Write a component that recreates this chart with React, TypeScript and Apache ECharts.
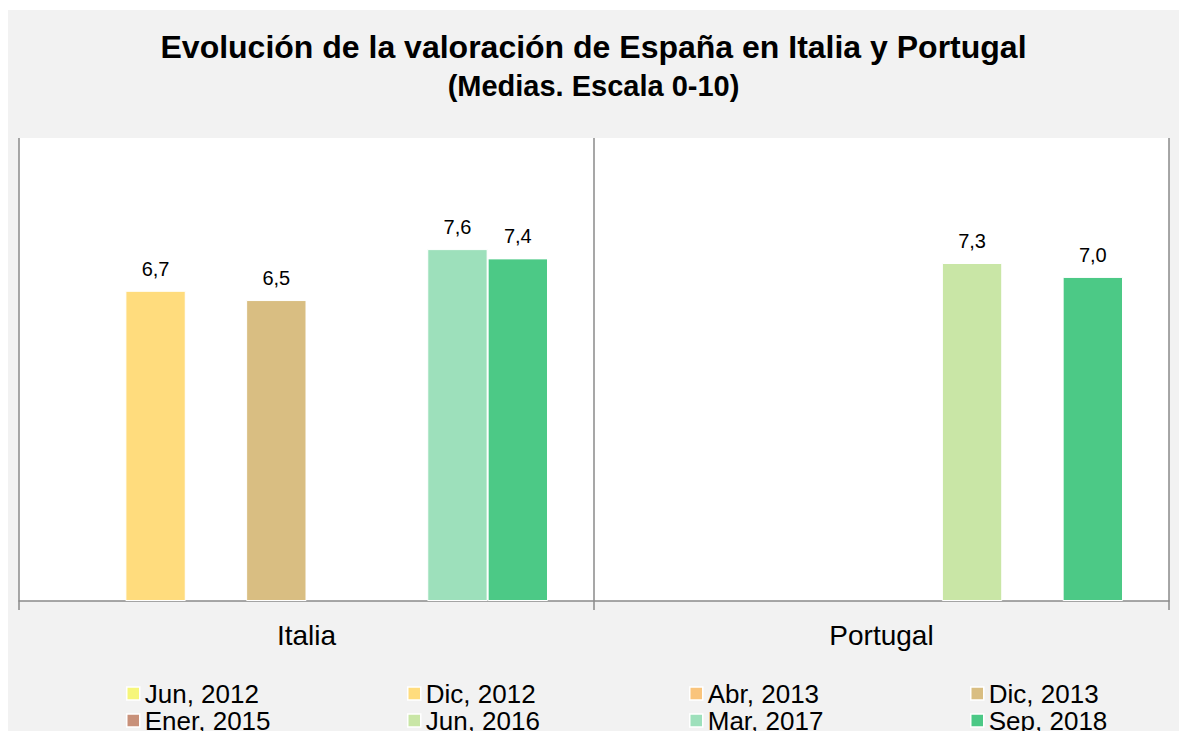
import React, { useEffect, useRef } from "react";
import * as echarts from "echarts";

const TITLE = "Evolución de la valoración de España en Italia y Portugal";
const SUBTITLE = "(Medias. Escala 0-10)";
const categories = ["Italia", "Portugal"];
const seriesNames = [
  "Jun, 2012",
  "Dic, 2012",
  "Abr, 2013",
  "Dic, 2013",
  "Ener, 2015",
  "Jun, 2016",
  "Mar, 2017",
  "Sep, 2018",
];
const jun2012 = [null, null];
const dic2012 = [6.7, null];
const abr2013 = [null, null];
const dic2013 = [6.5, null];
const ener2015 = [null, null];
const jun2016 = [null, 7.3];
const mar2017 = [7.6, null];
const sep2018 = [7.4, 7.0];
const seriesValues = [jun2012, dic2012, abr2013, dic2013, ener2015, jun2016, mar2017, sep2018];
const colors = [
  "#F6F67A",
  "#FFDC7D",
  "#F9C47C",
  "#D9BE82",
  "#C8917A",
  "#C9E6A6",
  "#9DE0BB",
  "#4CC986",
];

const FONT = "'Liberation Sans', Arial, sans-serif";

export default function App() {
  const ref = useRef<HTMLDivElement>(null);
  useEffect(() => {
    if (!ref.current) return;
    const chart = echarts.init(ref.current, null, { renderer: "svg" });
    const legendLefts = [118, 399, 681, 962];
    const legendTops = [670, 697];
    chart.setOption({
      animation: false,
      backgroundColor: "#F2F2F2",
      textStyle: { fontFamily: FONT },
      graphic: [
        {
          type: "text",
          x: 585.5,
          y: 37,
          style: {
            text: TITLE,
            font: `bold 32px ${FONT}`,
            fill: "#000",
            align: "center",
            verticalAlign: "middle",
          },
        },
        {
          type: "text",
          x: 585.5,
          y: 76,
          style: {
            text: SUBTITLE,
            font: `bold 29px ${FONT}`,
            fill: "#000",
            align: "center",
            verticalAlign: "middle",
          },
        },
      ],
      legend: seriesNames.map((name, i) => ({
        data: [name],
        orient: "horizontal",
        left: legendLefts[i % 4],
        top: legendTops[Math.floor(i / 4)],
        padding: 0,
        itemGap: 0,
        itemWidth: 13,
        itemHeight: 13,
        icon: "rect",
        selectedMode: false,
        itemStyle: { borderColor: "#FFFFFF", borderWidth: 1.5 },
        textStyle: { fontSize: 26, color: "#000", lineHeight: 27, fontFamily: FONT },
      })),
      grid: {
        left: 11,
        right: 10,
        top: 128,
        bottom: 130,
        show: true,
        backgroundColor: "#FFFFFF",
        borderWidth: 0,
      },
      xAxis: {
        type: "category",
        data: categories,
        axisLine: { show: true, lineStyle: { color: "#8A8A8A", width: 1.5 } },
        axisTick: { show: true, length: 9, lineStyle: { color: "#8A8A8A", width: 1.5 } },
        splitLine: { show: true, interval: 0, lineStyle: { color: "#8A8A8A", width: 1.5 } },
        axisLabel: { fontSize: 28, color: "#000", margin: 20, fontFamily: FONT },
      },
      yAxis: {
        type: "value",
        min: 0,
        max: 10,
        show: false,
        splitLine: { show: false },
      },
      series: seriesNames.map((name, i) => ({
        name,
        type: "bar",
        data: seriesValues[i],
        barGap: "0%",
        barCategoryGap: "16%",
        itemStyle: { color: colors[i], borderColor: "#FFFFFF", borderWidth: 1 },
        label: {
          show: true,
          position: "top",
          distance: 12,
          fontSize: 20,
          color: "#000",
          fontFamily: FONT,
          formatter: (p: any) =>
            p.value == null ? "" : Number(p.value).toFixed(1).replace(".", ","),
        },
      })),
    });
    return () => chart.dispose();
  }, []);
  return (
    <div
      ref={ref}
      style={{ position: "absolute", left: 8, top: 10, width: 1171, height: 721 }}
    />
  );
}
